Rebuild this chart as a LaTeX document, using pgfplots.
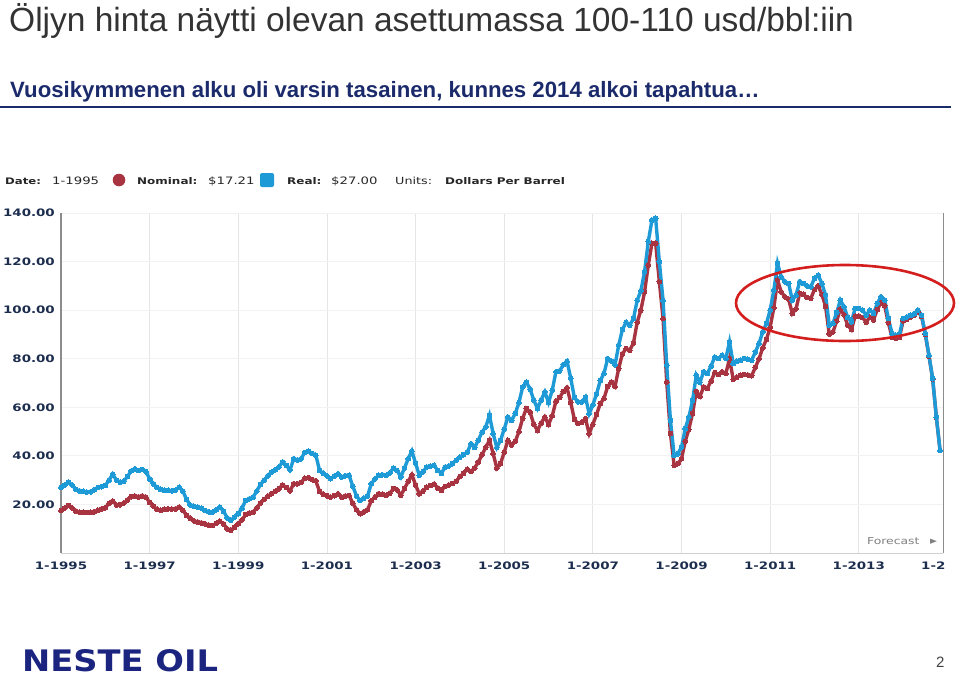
\documentclass[border=0pt]{standalone}
\usepackage{fontspec}
\setmainfont{Liberation Sans}
\newfontfamily\chartfont{DejaVu Sans}[FakeStretch=1.3]
\usepackage{pgfplots}
\usepackage{pgfplotstable}
\pgfplotsset{compat=1.18}

\definecolor{realblue}{HTML}{1E9AD6}
\definecolor{nomred}{HTML}{A83341}
\definecolor{navy}{HTML}{1B2A6B}
\definecolor{ticknavy}{HTML}{1C2D4E}
\definecolor{titlegray}{HTML}{333333}
\definecolor{ellred}{HTML}{D41E1E}
\definecolor{logonavy}{HTML}{1B2580}

% month index (0 = 1-1995), real and nominal price, USD per barrel
\pgfplotstableread{
m real nominal
0 27.1 17.5
1 28.0 18.5
2 29.2 19.6
3 28.0 18.6
4 26.2 17.3
5 25.6 16.8
6 25.4 16.8
7 25.1 16.7
8 25.2 16.8
9 26.0 17.0
10 27.0 17.6
11 27.3 18.2
12 27.8 18.6
13 30.0 20.5
14 32.4 21.4
15 30.0 19.8
16 29.2 19.9
17 29.6 20.6
18 31.5 21.8
19 33.8 23.2
20 34.7 23.5
21 34.0 23.1
22 34.4 23.5
23 33.5 23.0
24 30.5 20.8
25 28.5 19.3
26 27.0 18.0
27 26.2 17.6
28 25.8 18.0
29 25.8 18.2
30 25.6 18.1
31 25.9 18.2
32 27.1 18.9
33 25.5 17.6
34 22.0 15.5
35 19.8 14.3
36 19.2 13.2
37 18.9 12.8
38 18.5 12.4
39 17.5 12.0
40 17.0 11.5
41 16.8 11.3
42 17.8 12.2
43 18.9 13.1
44 17.2 12.0
45 14.5 10.0
46 13.5 9.4
47 14.8 10.6
48 16.2 12.0
49 18.5 13.6
50 21.6 15.8
51 22.3 16.5
52 23.0 16.8
53 25.5 18.6
54 28.2 20.6
55 30.0 22.0
56 31.8 23.4
57 33.3 24.4
58 34.3 25.4
59 35.4 26.5
60 37.5 28.0
61 36.0 27.0
62 34.2 25.6
63 38.8 28.5
64 38.3 28.5
65 38.8 29.0
66 41.4 30.8
67 42.0 31.0
68 41.0 30.2
69 40.3 29.7
70 34.0 25.3
71 32.8 24.2
72 31.8 23.6
73 30.6 23.0
74 31.7 23.6
75 32.6 24.4
76 31.3 23.0
77 31.8 23.5
78 32.0 23.7
79 27.5 20.5
80 23.5 17.8
81 21.6 16.2
82 22.6 17.0
83 23.5 17.8
84 28.5 21.5
85 30.5 23.0
86 32.0 24.4
87 32.2 24.2
88 32.0 23.8
89 33.0 24.5
90 35.0 26.5
91 34.0 26.0
92 31.3 23.8
93 35.0 26.5
94 38.8 29.5
95 42.0 32.2
96 37.0 28.0
97 32.0 24.4
98 33.5 25.5
99 35.4 27.1
100 35.8 27.8
101 36.1 28.4
102 34.0 26.8
103 32.8 25.8
104 35.4 27.4
105 35.8 28.0
106 36.8 28.6
107 38.2 29.5
108 39.5 31.5
109 40.5 32.8
110 41.5 34.5
111 45.0 33.6
112 43.5 35.0
113 46.5 37.5
114 49.8 40.5
115 51.9 43.5
116 56.7 46.4
117 49.2 40.9
118 43.5 35.0
119 46.4 36.8
120 51.0 41.5
121 56.0 46.4
122 54.6 44.5
123 57.5 46.0
124 62.0 50.0
125 68.4 55.5
126 70.4 59.5
127 67.5 58.0
128 63.0 53.0
129 59.5 50.5
130 63.0 53.5
131 66.3 56.0
132 62.0 53.0
133 67.0 56.5
134 74.6 62.5
135 75.0 64.0
136 77.5 66.5
137 79.0 68.0
138 72.0 62.0
139 64.0 55.0
140 62.2 53.3
141 62.2 53.9
142 64.2 55.3
143 57.4 49.2
144 61.0 53.0
145 65.5 57.0
146 71.0 61.5
147 73.9 63.6
148 80.0 68.5
149 79.0 70.4
150 77.5 68.6
151 85.6 76.0
152 92.0 82.0
153 95.0 84.2
154 93.8 83.5
155 96.6 86.5
156 104.0 95.0
157 108.0 100.0
158 115.8 107.5
159 128.2 118.5
160 137.1 127.5
161 137.8 127.5
162 119.9 111.7
163 104.1 96.6
164 77.3 70.4
165 54.6 49.2
166 40.2 36.1
167 40.9 36.8
168 43.6 38.8
169 51.2 46.0
170 56.0 51.0
171 62.9 57.5
172 73.2 66.5
173 70.4 64.5
174 74.6 68.4
175 73.9 67.8
176 77.0 70.8
177 80.7 74.3
178 80.1 73.5
179 81.4 74.6
180 80.1 73.9
181 86.9 80.0
182 78.0 71.5
183 79.0 72.4
184 79.4 73.2
185 80.1 73.5
186 79.8 73.3
187 79.4 73.0
188 82.8 76.5
189 86.3 80.0
190 91.1 84.5
191 94.5 88.0
192 100.0 93.0
193 108.2 101.0
194 119.3 112.4
195 113.7 107.5
196 111.7 105.5
197 111.0 104.5
198 104.1 98.6
199 106.2 100.5
200 111.7 107.0
201 111.0 106.5
202 110.0 105.2
203 109.6 104.8
204 113.1 108.5
205 114.4 110.0
206 111.0 106.5
207 106.2 101.6
208 93.8 90.2
209 94.5 91.0
210 99.0 95.5
211 104.1 100.5
212 101.4 98.0
213 97.0 93.8
214 95.2 92.0
215 100.7 97.5
216 100.7 97.6
217 100.0 97.0
218 97.9 95.0
219 100.0 97.2
220 98.6 96.0
221 102.8 100.3
222 105.5 103.0
223 104.1 101.8
224 96.6 94.8
225 90.4 88.9
226 89.7 88.4
227 90.0 88.8
228 96.6 95.6
229 97.2 96.3
230 97.9 97.1
231 98.5 97.8
232 100.0 99.4
233 97.9 97.4
234 90.4 90.0
235 81.4 81.1
236 71.8 71.6
237 56.0 55.9
238 42.3 42.2
}\oildata

\begin{document}
\begin{tikzpicture}
\useasboundingbox (0,0) rectangle (960pt,-677pt);

% slide title and subtitle
\node[anchor=base west, inner sep=0, text=titlegray,
  font=\fontsize{33.5}{38}\selectfont] at (9pt,-32pt)
  {Öljyn hinta näytti olevan asettumassa 100-110 usd/bbl:iin};
\node[anchor=base west, inner sep=0, text=navy,
  font=\fontsize{22.2}{26}\selectfont\bfseries] at (10pt,-97pt)
  {Vuosikymmenen alku oli varsin tasainen, kunnes 2014 alkoi tapahtua…};
\draw[navy, line width=2.5pt] (0pt,-107pt) -- (951pt,-107pt);

% chart header
\begin{scope}[every node/.style={anchor=base west, inner sep=0, text=black!85}]
  \node[font=\chartfont\bfseries\fontsize{9}{11}\selectfont] at (5pt,-184pt) {Date:};
  \node[font=\chartfont\fontsize{10.2}{12}\selectfont] at (52pt,-184pt) {1-1995};
  \node[font=\chartfont\bfseries\fontsize{9.2}{11}\selectfont] at (137pt,-184pt) {Nominal:};
  \node[font=\chartfont\fontsize{10.2}{12}\selectfont] at (208pt,-184pt) {\$17.21};
  \node[font=\chartfont\bfseries\fontsize{9.2}{11}\selectfont] at (287pt,-184pt) {Real:};
  \node[font=\chartfont\fontsize{10.2}{12}\selectfont] at (331pt,-184pt) {\$27.00};
  \node[font=\chartfont\fontsize{9.8}{12}\selectfont] at (395pt,-184pt) {Units:};
  \node[font=\chartfont\bfseries\fontsize{9.2}{11}\selectfont] at (445pt,-184pt) {Dollars Per Barrel};
\end{scope}
\fill[nomred] (119pt,-180pt) circle (6.3pt);
\fill[realblue, rounded corners=2pt] (260pt,-173pt) rectangle (274pt,-187pt);

\begin{axis}[
  at={(61pt,-553pt)}, anchor=south west,
  width=882pt, height=340pt, scale only axis,
  xmin=0, xmax=238.8, ymin=0, ymax=140,
  clip=false,
  axis x line*=bottom, axis y line*=left,
  x axis line style={draw=black!18, line width=1pt},
  y axis line style={draw=black!45, line width=1.5pt},
  xtick={0,24,48,72,96,120,144,168,192,216},
  xticklabels={1-1995,1-1997,1-1999,1-2001,1-2003,1-2005,1-2007,1-2009,1-2011,1-2013},
  ytick={20,40,60,80,100,120,140},
  yticklabel={\pgfmathprintnumber[fixed,fixed zerofill,precision=2]{\tick}},
  /pgf/number format/assume math mode=true,
  major tick length=0pt,
  xmajorgrids, ymajorgrids,
  major x grid style={draw=black!10, line width=0.8pt},
  major y grid style={draw=black!5, line width=0.8pt},
  xticklabel style={font=\chartfont\bfseries\fontsize{10.3}{12}\selectfont,
    text=ticknavy, inner sep=0pt, anchor=base, yshift=-16pt},
  yticklabel style={font=\chartfont\bfseries\fontsize{10.3}{12}\selectfont,
    text=ticknavy, inner sep=0pt, anchor=east, xshift=-6pt},
]
\draw[black!45, line width=1pt] (rel axis cs:1,0) -- (rel axis cs:1,1);
\addplot[nomred, line width=3.4pt, mark=*, mark size=2.4pt,
  mark options={solid, line width=0pt, fill=nomred, draw=nomred}]
  table[x=m, y=nominal] {\oildata};
\addplot[realblue, line width=3.4pt, mark=*, mark size=2.4pt,
  mark options={solid, line width=0pt, fill=realblue, draw=realblue}]
  table[x=m, y=real] {\oildata};
\end{axis}

% cut-off last tick label and forecast marker
\node[anchor=base west, inner sep=0, text=ticknavy,
  font=\chartfont\bfseries\fontsize{10.3}{12}\selectfont] at (921pt,-569pt) {1-2};
\node[anchor=base west, inner sep=0, text=black!50,
  font=\chartfont\fontsize{9.5}{11}\selectfont] at (867pt,-544pt) {Forecast};
\node[anchor=base west, inner sep=0, text=black!50,
  font=\chartfont\fontsize{7}{8}\selectfont] at (930pt,-543pt) {▶};

% highlight of the flat period
\draw[ellred, line width=2.6pt] (845pt,-303pt) ellipse [x radius=109pt, y radius=38pt];

% footer
\node[anchor=south west, inner sep=0, text=logonavy] at (22pt,-672pt)
  {\resizebox{196pt}{22pt}{\chartfont\bfseries NESTE OIL}};
\node[anchor=base west, inner sep=0, text=black!75,
  font=\fontsize{15}{18}\selectfont] at (936pt,-667pt) {2};
\end{tikzpicture}
\end{document}
